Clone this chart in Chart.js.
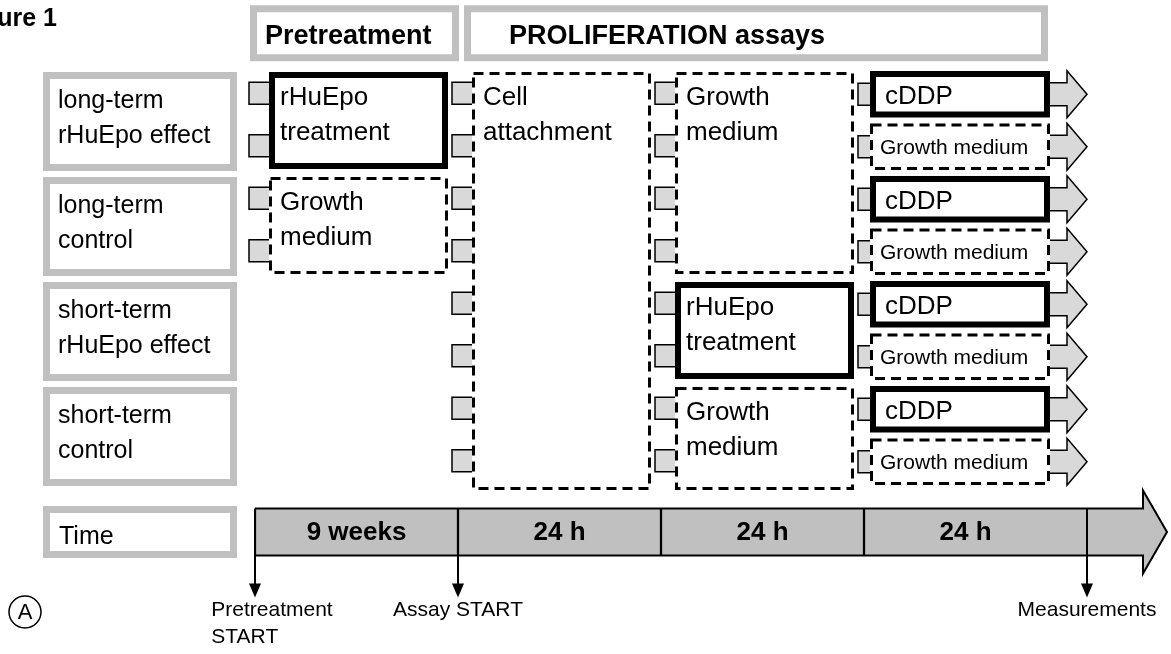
<!DOCTYPE html>
<html lang="en">
<head>
<meta charset="UTF-8">
<title>Figure 1 - rHuEpo study design</title>
<script src="https://cdn.jsdelivr.net/npm/chart.js@4.4.1/dist/chart.umd.min.js"></script>
<style>
  html, body { margin: 0; padding: 0; background: #fff; }
  canvas { display: block; }
</style>
</head>
<body>
<canvas id="figure" width="1171" height="654"></canvas>

<script>
    // --- study design ---
    const phases = ['Pretreatment', 'PROLIFERATION assays'];
    const phaseSteps = [[0, 1], [1, 4]];
    const durations = ['9 weeks', '24 h', '24 h', '24 h'];
    const groups = [
        ['long-term', 'rHuEpo effect'],
        ['long-term', 'control'],
        ['short-term', 'rHuEpo effect'],
        ['short-term', 'control']
    ];
    // step, first group, last group (exclusive), text, treated
    const steps = [
        [0, 0, 1, ['rHuEpo', 'treatment'], true],
        [0, 1, 2, ['Growth', 'medium'], false],
        [1, 0, 4, ['Cell', 'attachment'], false],
        [2, 0, 2, ['Growth', 'medium'], false],
        [2, 2, 3, ['rHuEpo', 'treatment'], true],
        [2, 3, 4, ['Growth', 'medium'], false]
    ];
    const finalStep = ['cDDP', 'Growth medium'];
    const milestones = [['Pretreatment', 'START'], ['Assay START'], ['Measurements']];
    const milestoneAt = [0, 1, 4];
    const timeLabel = 'Time';

    // --- layout ---
    const W = 1171, H = 654;
    const x0 = 255, stepPx = 203;   // one x unit per step
    const y0 = 70, rowPx = 105;     // one y unit per group
    const timeRow = 4.4, headRow = -0.35;
    const labelShift = [17, 0, 0];
    const GRAY = '#c0c0c0', TAB = '#d9d9d9';
    const FONT = '"Liberation Sans", Arial, sans-serif';

    function grayBox(ctx, l, t, r, b) {
        ctx.fillStyle = '#fff';
        ctx.fillRect(l, t, r - l, b - t);
        ctx.strokeStyle = GRAY;
        ctx.lineWidth = 7;
        ctx.setLineDash([]);
        ctx.strokeRect(l + 3.5, t + 3.5, r - l - 7, b - t - 7);
    }

    function stepBox(ctx, l, t, r, b, treated) {
        ctx.fillStyle = '#fff';
        ctx.fillRect(l, t, r - l, b - t);
        ctx.strokeStyle = '#000';
        if (treated) {
            ctx.lineWidth = 6;
            ctx.setLineDash([]);
            ctx.strokeRect(l + 3, t + 3, r - l - 6, b - t - 6);
        } else {
            ctx.lineWidth = 3;
            ctx.setLineDash([10, 6]);
            ctx.strokeRect(l + 1.5, t + 1.5, r - l - 3, b - t - 3);
        }
        ctx.setLineDash([]);
    }

    function tab(ctx, l, r, cy) {
        const t = cy - 11, b = cy + 11;
        ctx.fillStyle = TAB;
        ctx.fillRect(l, t, r - l, b - t);
        ctx.strokeStyle = '#000';
        ctx.lineWidth = 1.5;
        ctx.beginPath();
        ctx.moveTo(r, t); ctx.lineTo(l, t); ctx.lineTo(l, b); ctx.lineTo(r, b);
        ctx.stroke();
    }

    function blockArrow(ctx, l, cy) {
        ctx.beginPath();
        ctx.moveTo(l - 2, cy - 11.5);
        ctx.lineTo(l + 17, cy - 11.5);
        ctx.lineTo(l + 17, cy - 23.5);
        ctx.lineTo(l + 37, cy);
        ctx.lineTo(l + 17, cy + 23.5);
        ctx.lineTo(l + 17, cy + 11.5);
        ctx.lineTo(l - 2, cy + 11.5);
        ctx.fillStyle = TAB;
        ctx.fill();
        ctx.strokeStyle = '#000';
        ctx.lineWidth = 1.5;
        ctx.stroke();
    }

    function textLines(ctx, arr, x, y, gap) {
        arr.forEach((s, i) => ctx.fillText(s, x, y + i * gap));
    }

    // outline of the time arrow: top edge, head, bottom edge
    function timeArrowPath(ctx, from, cy, n, X) {
        const bodyEnd = X(n) + 76, tip = X(n) + 100;
        ctx.beginPath();
        ctx.moveTo(from, cy - 23.5);
        ctx.lineTo(bodyEnd, cy - 23.5);
        ctx.lineTo(bodyEnd, cy - 41.5);
        ctx.lineTo(tip, cy);
        ctx.lineTo(bodyEnd, cy + 41.5);
        ctx.lineTo(bodyEnd, cy + 23.5);
        ctx.lineTo(from, cy + 23.5);
    }

    const diagram = {
        id: 'diagram',
        beforeDatasetsDraw(chart) {
            const ctx = chart.ctx;
            const X = v => chart.scales.x.getPixelForValue(v);
            const cy = chart.scales.y.getPixelForValue(timeRow);
            const n = durations.length;
            ctx.save();
            timeArrowPath(ctx, X(n - 1), cy, n, X);
            ctx.fillStyle = GRAY;
            ctx.fill();
            ctx.restore();
        },
        afterDatasetsDraw(chart) {
            const ctx = chart.ctx;
            const X = v => chart.scales.x.getPixelForValue(v);
            const Y = v => chart.scales.y.getPixelForValue(v);
            const n = durations.length;
            ctx.save();
            ctx.textBaseline = 'middle';

            // time arrow outline over the duration bars
            const ty = Y(timeRow);
            timeArrowPath(ctx, X(0), ty, n, X);
            ctx.strokeStyle = '#000';
            ctx.lineWidth = 2;
            ctx.stroke();

            // figure label (cropped on the left in the original)
            ctx.fillStyle = '#000';
            ctx.font = 'bold 25px ' + FONT;
            ctx.textAlign = 'right';
            ctx.fillText('Figure 1', 57, 19);
            ctx.textAlign = 'left';

            // phase headers
            let prevRight = 0;
            phases.forEach((p, i) => {
                const [s0, s1] = phaseSteps[i];
                const l = i === 0 ? X(s0) - 5 : prevRight + 5;
                const r = s1 === n ? X(s1) - 19 : X(s1) + 1;
                const cy = Y(headRow);
                grayBox(ctx, l, cy - 28, r, cy + 28);
                ctx.fillStyle = '#000';
                ctx.font = 'bold 27px ' + FONT;
                ctx.fillText(p, l + (i === 0 ? 15 : 45), cy + 3);
                prevRight = r;
            });

            // group labels
            groups.forEach((g, i) => {
                const t = Y(i) + 2, b = Y(i + 1) - 4;
                grayBox(ctx, X(0) - 212, t, X(0) - 18, b);
                ctx.fillStyle = '#000';
                ctx.font = '25px ' + FONT;
                textLines(ctx, g, X(0) - 197, t + 29, 35);
            });

            // time label
            grayBox(ctx, X(0) - 212, ty - 26, X(0) - 18, ty + 26);
            ctx.fillStyle = '#000';
            ctx.font = '25px ' + FONT;
            ctx.fillText(timeLabel, X(0) - 196, ty + 5);

            // connector tabs, then the step boxes
            steps.forEach(([s, g0, g1]) => {
                for (let g = g0; g < g1; g++) {
                    tab(ctx, X(s) - 6, X(s) + 15, Y(g + 0.25) - 3);
                    tab(ctx, X(s) - 6, X(s) + 15, Y(g + 0.75) - 3);
                }
            });
            steps.forEach(([s, g0, g1, text, treated]) => {
                const l = X(s) + 14, r = X(s + 1) - 10, t = Y(g0) + 2;
                const b = g1 === groups.length ? Y(g1) : Y(g1) - 6;
                stepBox(ctx, l, t, r, b, treated);
                ctx.fillStyle = '#000';
                ctx.font = '26px ' + FONT;
                textLines(ctx, text, l + 11, t + 26, 35);
            });

            // last step: each group split into cDDP / growth medium wells
            const fl = X(n - 1) + 6, fr = X(n) - 17;
            groups.forEach((g, i) => {
                finalStep.forEach((label, k) => {
                    const t = Y(i + k / 2) + 1, b = Y(i + (k + 1) / 2) - 5, cy = (t + b) / 2;
                    tab(ctx, X(n - 1) - 6, fl + 1, cy);
                    blockArrow(ctx, fr, cy);
                    stepBox(ctx, fl, t, fr, b, k === 0);
                    ctx.fillStyle = '#000';
                    if (k === 0) {
                        ctx.font = '26px ' + FONT;
                        ctx.fillText(label, fl + 15, cy + 3);
                    } else {
                        ctx.font = '21px ' + FONT;
                        ctx.fillText(label, fl + 10, cy + 1);
                    }
                });
            });

            // duration text on the time bar
            const meta = chart.getDatasetMeta(0);
            ctx.font = 'bold 26px ' + FONT;
            ctx.textAlign = 'center';
            meta.data.forEach((bar, i) => {
                const c = bar.getCenterPoint();
                ctx.fillText(durations[i], c.x, c.y + 1);
            });

            // milestone arrows
            const top = ty - 23.5, tipY = ty + 65.5;
            milestones.forEach((m, i) => {
                const mx = milestoneAt[i] === n ? fr + 37 : X(milestoneAt[i]);
                ctx.strokeStyle = '#000';
                ctx.lineWidth = 2;
                ctx.beginPath();
                ctx.moveTo(mx, top);
                ctx.lineTo(mx, tipY - 12);
                ctx.stroke();
                ctx.beginPath();
                ctx.moveTo(mx - 6, tipY - 14);
                ctx.lineTo(mx + 6, tipY - 14);
                ctx.lineTo(mx, tipY);
                ctx.closePath();
                ctx.fillStyle = '#000';
                ctx.fill();
                ctx.font = '21px ' + FONT;
                const w = Math.max(...m.map(s => ctx.measureText(s).width));
                ctx.textAlign = 'left';
                textLines(ctx, m, mx - w / 2 + labelShift[i], tipY + 13, 27);
            });

            // panel marker
            ctx.beginPath();
            ctx.arc(25, 612, 16, 0, Math.PI * 2);
            ctx.lineWidth = 1.5;
            ctx.stroke();
            ctx.font = '22px ' + FONT;
            ctx.textAlign = 'center';
            ctx.fillText('A', 25, 613);
            ctx.restore();
        }
    };

    const figure = new Chart(document.getElementById('figure'), {
        type: 'bar',
        data: {
            labels: durations,
            datasets: [{
                data: durations.map((d, i) => ({ x: [i, i + 1], y: timeRow })),
                backgroundColor: GRAY,
                borderColor: '#000',
                borderWidth: c => ({
                    top: 0, bottom: 0, left: 1.5,
                    right: c.dataIndex === durations.length - 1 ? 0 : 1.5
                }),
                borderSkipped: false,
                barThickness: 47
            }]
        },
        options: {
            indexAxis: 'y',
            responsive: false,
            animation: false,
            events: [],
            layout: { padding: 0 },
            plugins: { legend: { display: false }, tooltip: { enabled: false } },
            scales: {
                x: { type: 'linear', display: false, offset: false, min: -x0 / stepPx, max: (W - x0) / stepPx },
                y: { type: 'linear', display: false, offset: false, reverse: true, min: -y0 / rowPx, max: (H - y0) / rowPx }
            }
        },
        plugins: [diagram]
    });
</script>
</body>
</html>
